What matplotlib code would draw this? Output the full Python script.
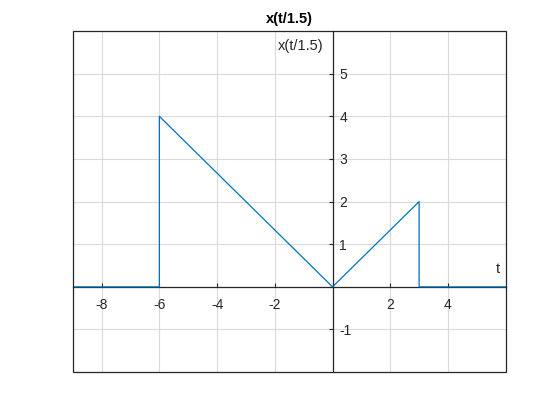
import matplotlib.pyplot as plt
from matplotlib.patches import Rectangle

# Signal x(t/1.5), piecewise linear
t = [-9, -6, -6, 0, 3, 3, 6]
x = [0, 0, 4, 0, 2, 0, 0]

xticks = [-8, -6, -4, -2, 0, 2, 4]
xtick_labels = ['-8', '-6', '-4', '-2', '', '2', '4']
yticks = [-1, 0, 1, 2, 3, 4, 5]
ytick_labels = ['-1', '', '1', '2', '3', '4', '5']

plt.rc('font', family='Liberation Sans')

fig = plt.figure(figsize=(5.6, 4.2), dpi=100)
ax = fig.add_axes([0.13, 0.114, 0.773, 0.812])

ax.plot(t, x, color='#0072BD', lw=0.9, zorder=3)

ax.set_xlim(-9, 6)
ax.set_ylim(-2, 6)
ax.set_xticks(xticks)
ax.set_xticklabels(xtick_labels)
ax.set_yticks(yticks)
ax.set_yticklabels(ytick_labels)

# axes through the origin
ax.spines['right'].set_position(('data', 0))
ax.spines['bottom'].set_position(('data', 0))
ax.spines['left'].set_visible(False)
ax.spines['top'].set_visible(False)
for s in ['right', 'bottom']:
    ax.spines[s].set_color('#262626')
    ax.spines[s].set_linewidth(0.9)
ax.yaxis.tick_right()
ax.tick_params(axis='both', direction='in', length=3, width=0.8,
               color='#262626', labelcolor='#262626', labelsize=10)
ax.tick_params(axis='x', pad=8)
ax.tick_params(axis='y', pad=5)

ax.grid(True, color='#dadada', lw=0.8)
ax.set_axisbelow(True)

# box around the plot area
ax.add_patch(Rectangle((0, 0), 1, 1, transform=ax.transAxes, fill=False,
                       edgecolor='#262626', lw=0.9, clip_on=False, zorder=5))

ax.text(-0.3, 5.65, 'x(t/1.5)', ha='right', va='center', fontsize=10.5, color='#262626')
ax.text(5.74, 0.42, 't', ha='center', va='center', fontsize=10.5, color='#262626')
ax.set_title('x(t/1.5)', fontweight='bold', fontsize=10.5, pad=6)

plt.savefig('out.png', dpi=100)
